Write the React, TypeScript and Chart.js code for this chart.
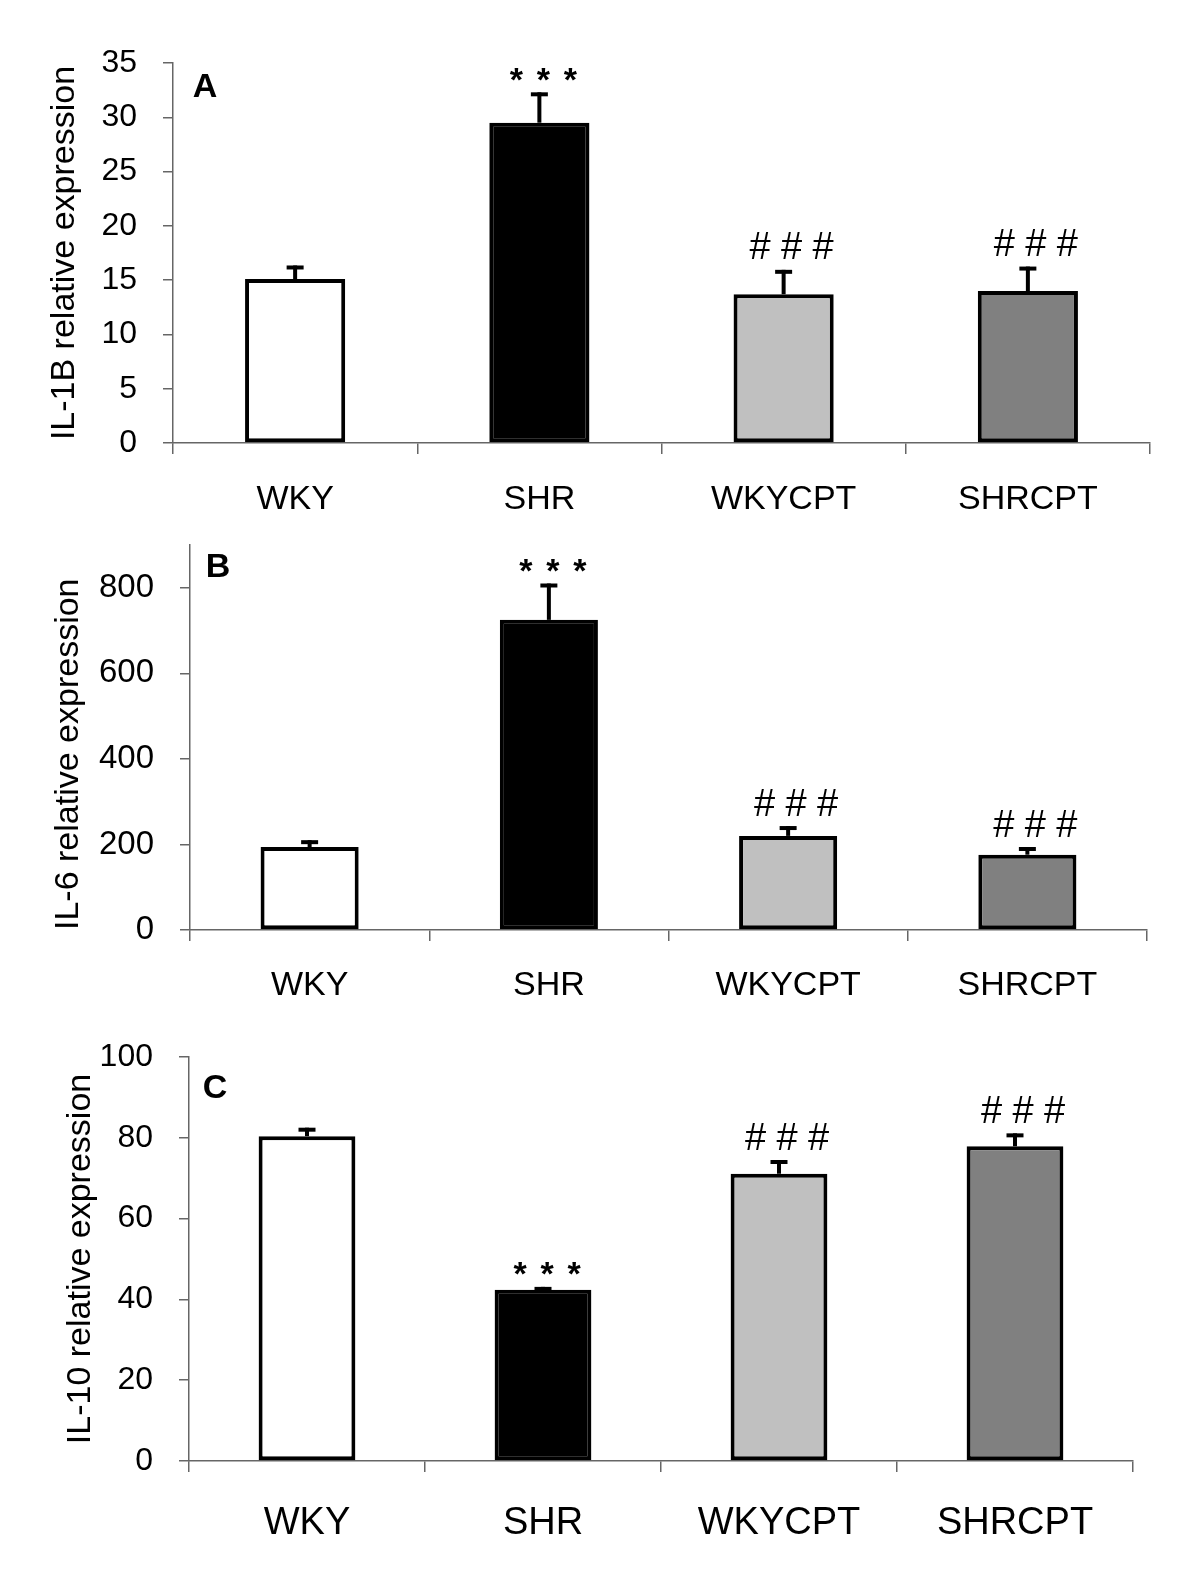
import React, { useEffect, useRef } from 'react';
import { Chart, registerables } from 'chart.js';

Chart.register(...registerables);

const FONT = '"Liberation Sans", Arial, Helvetica, sans-serif';

// ---- data ----
const categories = ['WKY', 'SHR', 'WKYCPT', 'SHRCPT'];
const barColors = ['#ffffff', '#000000', '#c0c0c0', '#808080'];

const il1bMeans = [15.1, 29.5, 13.7, 14.0];
const il1bErrors = [1.25, 2.8, 2.25, 2.25];
const il1bMarks = ['', '***', '###', '###'];
const il1bAxis = [0, 35, 5];

const il6Means = [194, 725, 220, 176];
const il6Errors = [16, 85, 23, 18];
const il6Marks = ['', '***', '###', '###'];
const il6Axis = [0, 900, 200];

const il10Means = [80.4, 42.4, 71.1, 77.9];
const il10Errors = [2.1, 0.7, 3.4, 3.2];
const il10Marks = ['', '***', '###', '###'];
const il10Axis = [0, 100, 20];

// ---- layout / style per panel ----
const panels = [
  {
    letter: 'A', title: 'IL-1B relative expression', means: il1bMeans, errors: il1bErrors, marks: il1bMarks, axis: il1bAxis,
    canvasTop: 0, canvasHeight: 525, areaTop: 63, areaBottom: 443, areaLeft: 173, areaRight: 1150,
    titlePad: 44, titleAlign: 'center', xFont: 34, xPad: 25, tickFont: 32, letterDx: 32, letterDy: 22,
  },
  {
    letter: 'B', title: 'IL-6 relative expression', means: il6Means, errors: il6Errors, marks: il6Marks, axis: il6Axis,
    canvasTop: 470, canvasHeight: 560, areaTop: 545, areaBottom: 930, areaLeft: 190, areaRight: 1147,
    titlePad: 48, titleAlign: 'start', xFont: 34, xPad: 24, tickFont: 33, letterDx: 28, letterDy: 20,
  },
  {
    letter: 'C', title: 'IL-10 relative expression', means: il10Means, errors: il10Errors, marks: il10Marks, axis: il10Axis,
    canvasTop: 980, canvasHeight: 593, areaTop: 1057, areaBottom: 1461, areaLeft: 189, areaRight: 1133,
    titlePad: 60, titleAlign: 'center', xFont: 38, xPad: 29, tickFont: 32, letterDx: 26, letterDy: 29,
  },
];

const AXIS_COLOR = '#666666';

const decorPlugin = {
  id: 'panelDecor',
  afterDatasetsDraw(chart: any, _args: any, opts: any) {
    const { ctx, chartArea } = chart;
    const yScale = chart.scales.y;
    const meta = chart.getDatasetMeta(0);
    const means = chart.data.datasets[0].data as number[];
    ctx.save();
    ctx.strokeStyle = '#000';
    ctx.fillStyle = '#000';
    meta.data.forEach((bar: any, i: number) => {
      const err = opts.errors[i];
      const top = yScale.getPixelForValue(means[i] + err);
      const base = yScale.getPixelForValue(means[i]);
      ctx.lineWidth = 4;
      ctx.beginPath();
      ctx.moveTo(bar.x, base);
      ctx.lineTo(bar.x, top);
      ctx.stroke();
      ctx.lineWidth = 4;
      ctx.beginPath();
      ctx.moveTo(bar.x - 8.5, top + 2);
      ctx.lineTo(bar.x + 8.5, top + 2);
      ctx.stroke();
      const mark: string = opts.marks[i];
      if (mark) {
        const ch = mark[0];
        const isStar = ch === '*';
        ctx.font = isStar ? `bold 34px ${FONT}` : `38px ${FONT}`;
        const m = ctx.measureText(ch);
        const centerY = top - (isStar ? 18 : 24);
        const baseY = centerY + (m.actualBoundingBoxAscent - m.actualBoundingBoxDescent) / 2;
        const spacing = isStar ? 27 : 31.5;
        const cx = bar.x + (isStar ? 4 : 8);
        ctx.textAlign = 'center';
        ctx.textBaseline = 'alphabetic';
        for (let k = 0; k < mark.length; k++) {
          ctx.fillText(ch, cx + (k - (mark.length - 1) / 2) * spacing, baseY);
        }
      }
    });
    // panel letter
    ctx.font = `bold 34px ${FONT}`;
    const lm = ctx.measureText(opts.letter);
    ctx.textAlign = 'center';
    ctx.textBaseline = 'alphabetic';
    ctx.fillText(
      opts.letter,
      chartArea.left + opts.letterDx,
      chartArea.top + opts.letterDy + (lm.actualBoundingBoxAscent - lm.actualBoundingBoxDescent) / 2
    );
    ctx.restore();
  },
};

function Panel({ p }: { p: (typeof panels)[number] }) {
  const ref = useRef<HTMLCanvasElement>(null);
  useEffect(() => {
    const canvas = ref.current!;
    const yAxisWidth = p.areaLeft;
    const xAxisHeight = p.canvasHeight - (p.areaBottom - p.canvasTop);
    const chart = new Chart(canvas, {
      type: 'bar',
      data: {
        labels: categories,
        datasets: [
          {
            data: p.means,
            backgroundColor: barColors,
            borderColor: '#000000',
            borderWidth: 4,
            borderSkipped: false,
            barPercentage: 0.41,
            categoryPercentage: 1,
          },
        ],
      },
      options: {
        responsive: false,
        animation: false,
        devicePixelRatio: 1,
        layout: {
          padding: { left: 0, right: 1200 - p.areaRight, top: p.areaTop - p.canvasTop, bottom: 0 },
        },
        plugins: {
          legend: { display: false },
          tooltip: { enabled: false },
          panelDecor: { errors: p.errors, marks: p.marks, letter: p.letter, letterDx: p.letterDx, letterDy: p.letterDy },
        } as any,
        scales: {
          x: {
            offset: true,
            grid: { offset: true, drawOnChartArea: false, drawTicks: true, tickLength: 11, color: AXIS_COLOR, lineWidth: 1.5 },
            border: { display: true, color: AXIS_COLOR, width: 1.5 },
            ticks: { font: { family: FONT, size: p.xFont }, color: '#000', padding: p.xPad, maxRotation: 0 },
            afterFit: (s: any) => {
              s.height = xAxisHeight;
            },
          },
          y: {
            min: p.axis[0],
            max: p.axis[1],
            grid: { drawOnChartArea: false, drawTicks: true, tickLength: 10, color: AXIS_COLOR, lineWidth: 1.5 },
            border: { display: true, color: AXIS_COLOR, width: 1.5 },
            ticks: {
              stepSize: p.axis[2],
              includeBounds: false,
              font: { family: FONT, size: p.tickFont },
              color: '#000',
              padding: 26,
            },
            title: {
              display: true,
              text: p.title,
              color: '#000',
              align: p.titleAlign,
              font: { family: FONT, size: 34 },
              padding: { top: p.titlePad, bottom: 0 },
            },
            afterFit: (s: any) => {
              s.width = yAxisWidth;
            },
          },
        },
      },
      plugins: [decorPlugin],
    } as any);
    return () => chart.destroy();
  }, [p]);
  return (
    <canvas
      ref={ref}
      width={1200}
      height={p.canvasHeight}
      style={{ position: 'absolute', left: 0, top: p.canvasTop, width: 1200, height: p.canvasHeight, display: 'block' }}
    />
  );
}

export default function App() {
  return (
    <div style={{ position: 'absolute', left: 0, top: 0, width: 1200, height: 1573, background: '#ffffff', overflow: 'hidden' }}>
      {panels.map((p) => (
        <Panel key={p.letter} p={p} />
      ))}
    </div>
  );
}
